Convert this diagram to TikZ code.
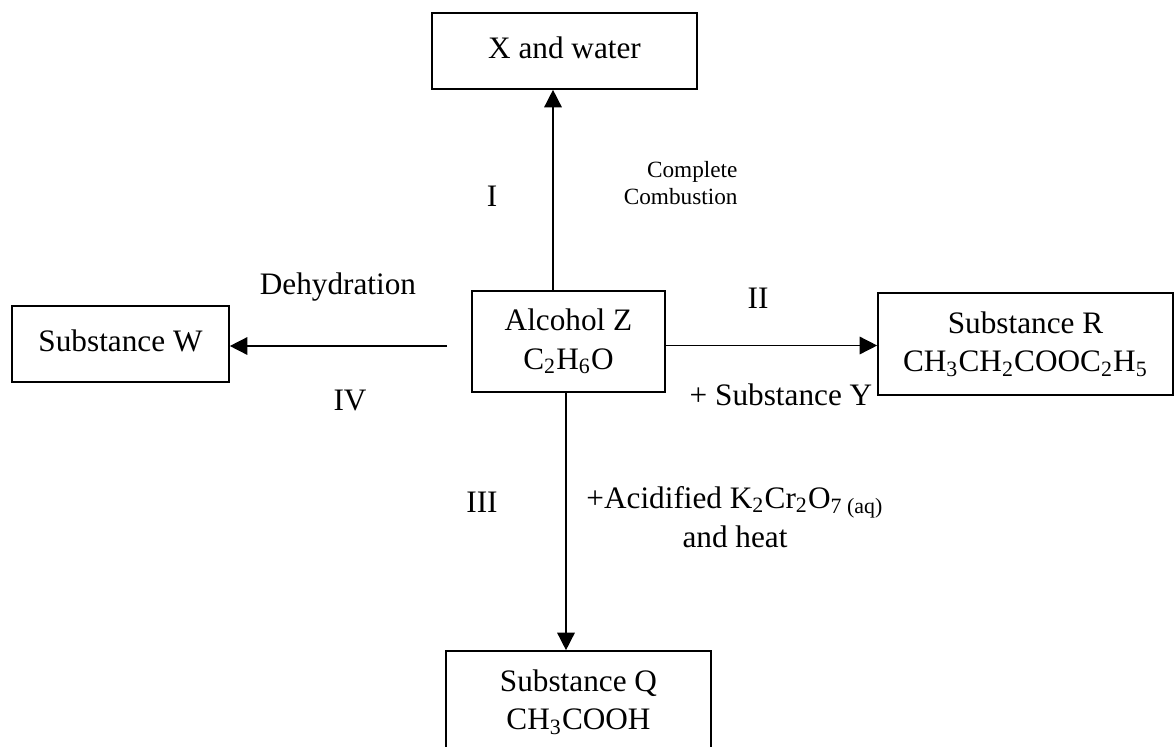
\documentclass[tikz,border=0pt]{standalone}
\usepackage{fontspec}
\setmainfont{Liberation Serif}
\usetikzlibrary{arrows.meta}
\tikzset{
  every node/.style={font=\fontsize{12.5}{15.5}\selectfont, inner sep=0pt},
  box/.style={draw, line width=0.65pt, align=center, inner sep=0pt},
  arr/.style={line width=0.6pt, -{Triangle[length=7pt,width=7pt]}},
  small/.style={font=\fontsize{9.3}{10.8}\selectfont},
}
\begin{document}
\begin{tikzpicture}[x=0.4pt,y=-0.4pt]
\useasboundingbox (0,0) rectangle (1174,747);
\fill[white] (0,0) rectangle (1174,747);
\clip (0,0) rectangle (1174,747);
% boxes
\node[box, minimum width=265*0.4pt, minimum height=76*0.4pt] (X) at (564.5,51) {\raisebox{2.4pt}{X and water}};
\node[box, minimum width=193*0.4pt, minimum height=101*0.4pt] (alc) at (568.5,341.5) {Alcohol Z\\C\textsubscript{2}H\textsubscript{6}O};
\node[box, minimum width=217*0.4pt, minimum height=76*0.4pt] (W) at (120.5,344) {\raisebox{2.8pt}{Substance W}};
\node[box, minimum width=295*0.4pt, minimum height=102*0.4pt] (R) at (1025.5,344) {Substance R\\CH\textsubscript{3}CH\textsubscript{2}COOC\textsubscript{2}H\textsubscript{5}};
\node[box, minimum width=265*0.4pt, minimum height=102*0.4pt] (Q) at (578.5,702) {Substance Q\\CH\textsubscript{3}COOH};
% connector helper coordinates
\coordinate (cI) at (553,0);
\coordinate (cIII) at (566,0);
\coordinate (cII) at (0,345.5);
\coordinate (ivs) at (447,346);
% connectors
\draw[arr] (cI |- alc.north) -- (cI |- X.south);
\draw[arr] (alc.east |- cII) -- (R.west |- cII);
\draw[arr] (cIII |- alc.south) -- (cIII |- Q.north);
\draw[arr] (ivs) -- (W.east |- ivs);
% labels
\node (lI) at (492,196) {I};
\node[small, anchor=east, align=right] (lcomb) at (738,183.5) {Complete\\Combustion};
\node (lII) at (758,298) {II};
\node (lY) at (781,395) {+ Substance Y};
\node (lIII) at (482,502) {III};
\node[align=center] (lox) at (735,517) {+Acidified K\textsubscript{2}Cr\textsubscript{2}O\textsubscript{7 (aq)}\\and heat};
\node (ldeh) at (338,287) {Dehydration};
\node (lIV) at (350,400) {IV};
\end{tikzpicture}
\end{document}
